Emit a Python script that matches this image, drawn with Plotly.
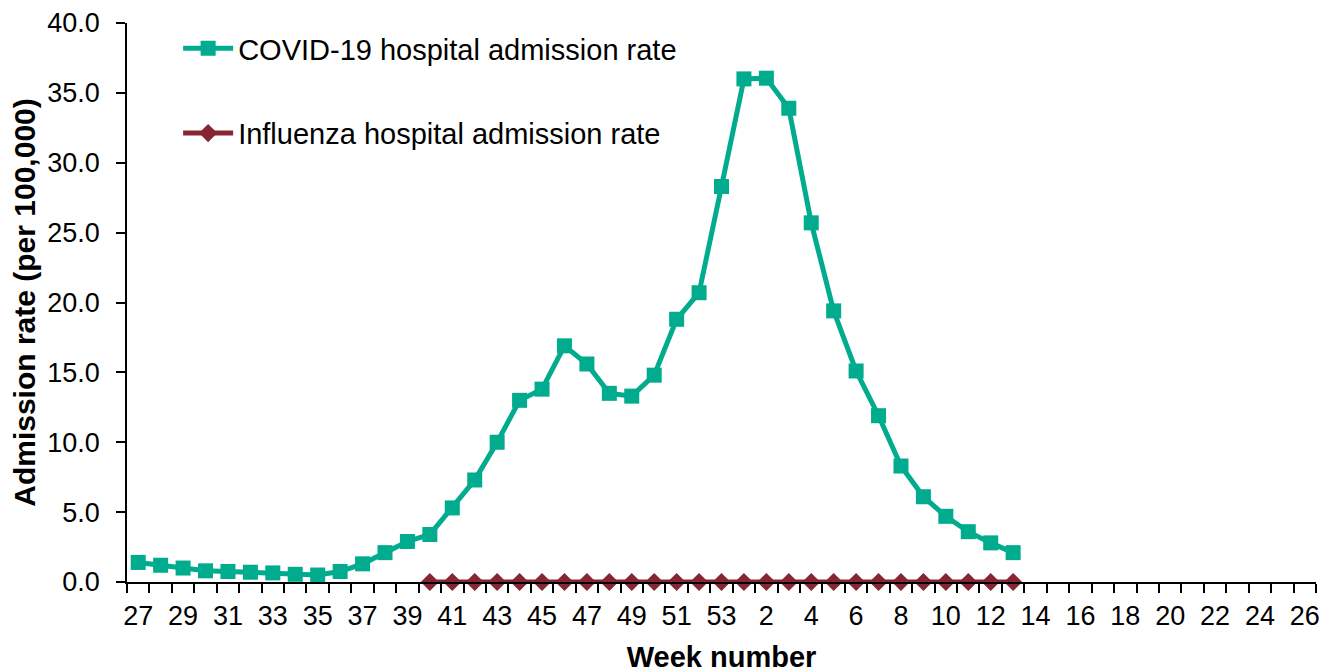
import plotly.graph_objects as go

weeks = [str(w) for w in range(27, 54)] + [str(w) for w in range(1, 27)]
tick_labels = [w if i % 2 == 0 else "" for i, w in enumerate(weeks)]

covid_weeks = [str(w) for w in range(27, 54)] + [str(w) for w in range(1, 14)]
covid_rate = [1.4, 1.2, 1.0, 0.8, 0.75, 0.7, 0.65, 0.55, 0.5, 0.75, 1.3, 2.1, 2.9, 3.4,
              5.3, 7.3, 10.0, 13.0, 13.8, 16.9, 15.6, 13.5, 13.3, 14.8, 18.8, 20.7, 28.3,
              36.0, 36.05, 33.9, 25.7, 19.4, 15.1, 11.9, 8.3, 6.1, 4.7, 3.6, 2.8, 2.1]

flu_weeks = [str(w) for w in range(40, 54)] + [str(w) for w in range(1, 14)]
flu_rate = [0.0] * len(flu_weeks)

green = "#00AB8E"
maroon = "#862633"

fig = go.Figure()
fig.add_trace(go.Scatter(
    x=covid_weeks, y=covid_rate, mode="lines+markers",
    name="COVID-19 hospital admission rate", legendgroup="a",
    line=dict(color=green, width=5),
    marker=dict(symbol="square", size=15, color=green),
    cliponaxis=False,
))
fig.add_trace(go.Scatter(
    x=flu_weeks, y=flu_rate, mode="lines+markers",
    name="Influenza hospital admission rate", legendgroup="b",
    line=dict(color=maroon, width=5),
    marker=dict(symbol="diamond", size=14, color=maroon),
    cliponaxis=False,
))

font = "Liberation Sans, Arial, sans-serif"
fig.update_layout(
    width=1333, height=672,
    margin=dict(l=119, r=25, t=15, b=98),
    paper_bgcolor="white", plot_bgcolor="white",
    font=dict(family=font, size=27, color="black"),
    showlegend=True,
    legend=dict(x=0.043, y=1.0, xanchor="left", yanchor="top",
                bgcolor="rgba(0,0,0,0)", tracegroupgap=44,
                font=dict(size=29), itemwidth=50),
    xaxis=dict(
        type="category", categoryorder="array", categoryarray=weeks,
        tickmode="array", tickvals=weeks, ticktext=tick_labels,
        tickson="boundaries", ticks="outside", ticklen=9, tickcolor="black",
        tickwidth=1.5, tickangle=0, automargin=False, ticklabelstandoff=9,
        showline=True, linecolor="black", linewidth=1.5,
        showgrid=False, zeroline=False, range=[-0.5, 52.5],
        title=dict(text="<b>Week number</b>", standoff=17, font=dict(size=29)),
        tickfont=dict(size=27),
    ),
    yaxis=dict(
        range=[0, 40], dtick=5, tickformat=".1f",
        ticks="outside", ticklen=9, tickcolor="black", tickwidth=1.5,
        ticklabelstandoff=11, automargin=False,
        showline=True, linecolor="black", linewidth=1.5,
        showgrid=False, zeroline=False,
        title=dict(text="<b>Admission rate (per 100,000)</b>", standoff=17, font=dict(size=30)),
        tickfont=dict(size=27),
    ),
)

fig.write_html("out.html")
